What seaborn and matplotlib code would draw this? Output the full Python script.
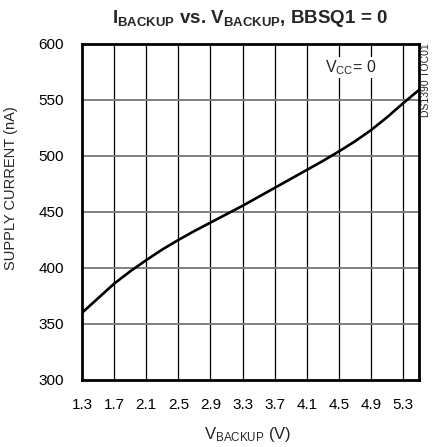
import numpy as np
import pandas as pd
import seaborn as sns
import matplotlib.pyplot as plt

v_backup = [1.3, 1.5, 1.7, 1.9, 2.1, 2.3, 2.5, 2.7, 2.9, 3.1, 3.3, 3.5, 3.7, 3.9,
            4.1, 4.3, 4.5, 4.7, 4.9, 5.1, 5.3, 5.5]
supply_na = [360, 373, 386, 397, 407, 416.5, 425, 433, 440.5, 448, 455.5, 463.5,
             471.5, 479.5, 487.5, 495.5, 504, 513, 523, 534.5, 547, 559]
x_ticks = [1.3, 1.7, 2.1, 2.5, 2.9, 3.3, 3.7, 4.1, 4.5, 4.9, 5.3]
y_ticks = [300, 350, 400, 450, 500, 550, 600]

sns.set_style("white")
plt.rcParams['font.family'] = ['Liberation Sans', 'DejaVu Sans']
plt.rcParams['mathtext.fontset'] = 'custom'
plt.rcParams['mathtext.rm'] = 'Liberation Sans'
plt.rcParams['mathtext.bf'] = 'Liberation Sans:bold'

df = pd.DataFrame({"v": v_backup, "i": supply_na})

fig = plt.figure(figsize=(4.32, 4.47), dpi=100)
ax = fig.add_axes([0.19, 0.15, 0.78, 0.7516])

sns.lineplot(data=df, x="v", y="i", ax=ax, color="black", linewidth=1.9, zorder=5)

ax.set_xlim(1.3, 5.5)
ax.set_ylim(300, 600)
ax.set_xticks(x_ticks)
ax.set_yticks(y_ticks)
ax.set_xticklabels([f"{t:.1f}" for t in x_ticks])
ax.tick_params(axis="both", length=0, labelsize=11, colors="black")
ax.tick_params(axis="x", pad=13)
ax.tick_params(axis="y", pad=13)

for t in x_ticks[1:]:
    ax.axvline(t, color="black", linewidth=0.9, zorder=1)
for t in y_ticks[1:-1]:
    ax.axhline(t, color="#808080", linewidth=1.4, zorder=1)

for s in ax.spines.values():
    s.set_visible(True)
    s.set_color("black")
    s.set_linewidth(2.0)

ax.set_xlabel(r"$\mathregular{V_{BACKUP}}$ (V)", fontsize=12)
ax.set_ylabel("SUPPLY CURRENT (nA)", fontsize=10.5)
ax.xaxis.set_label_coords(0.49, -0.135)
ax.yaxis.set_label_coords(-0.19, 0.57)

fig.text(0.579, 0.958, r"$\mathbf{I_{BACKUP}}$ vs. $\mathbf{V_{BACKUP}}$, BBSQ1 = 0",
         ha="center", va="center", fontsize=13.5, fontweight="bold")

ax.text(0.72, 0.93, r"$\mathregular{V_{CC}}$= 0", transform=ax.transAxes,
        ha="left", va="center", fontsize=11.5, zorder=6,
        bbox=dict(facecolor="white", edgecolor="none", pad=1))

fig.text(0.986, 0.82, "DS1390 TOC01", rotation=90, ha="center", va="center", fontsize=7.5)

fig.savefig("out.png", dpi=100)
